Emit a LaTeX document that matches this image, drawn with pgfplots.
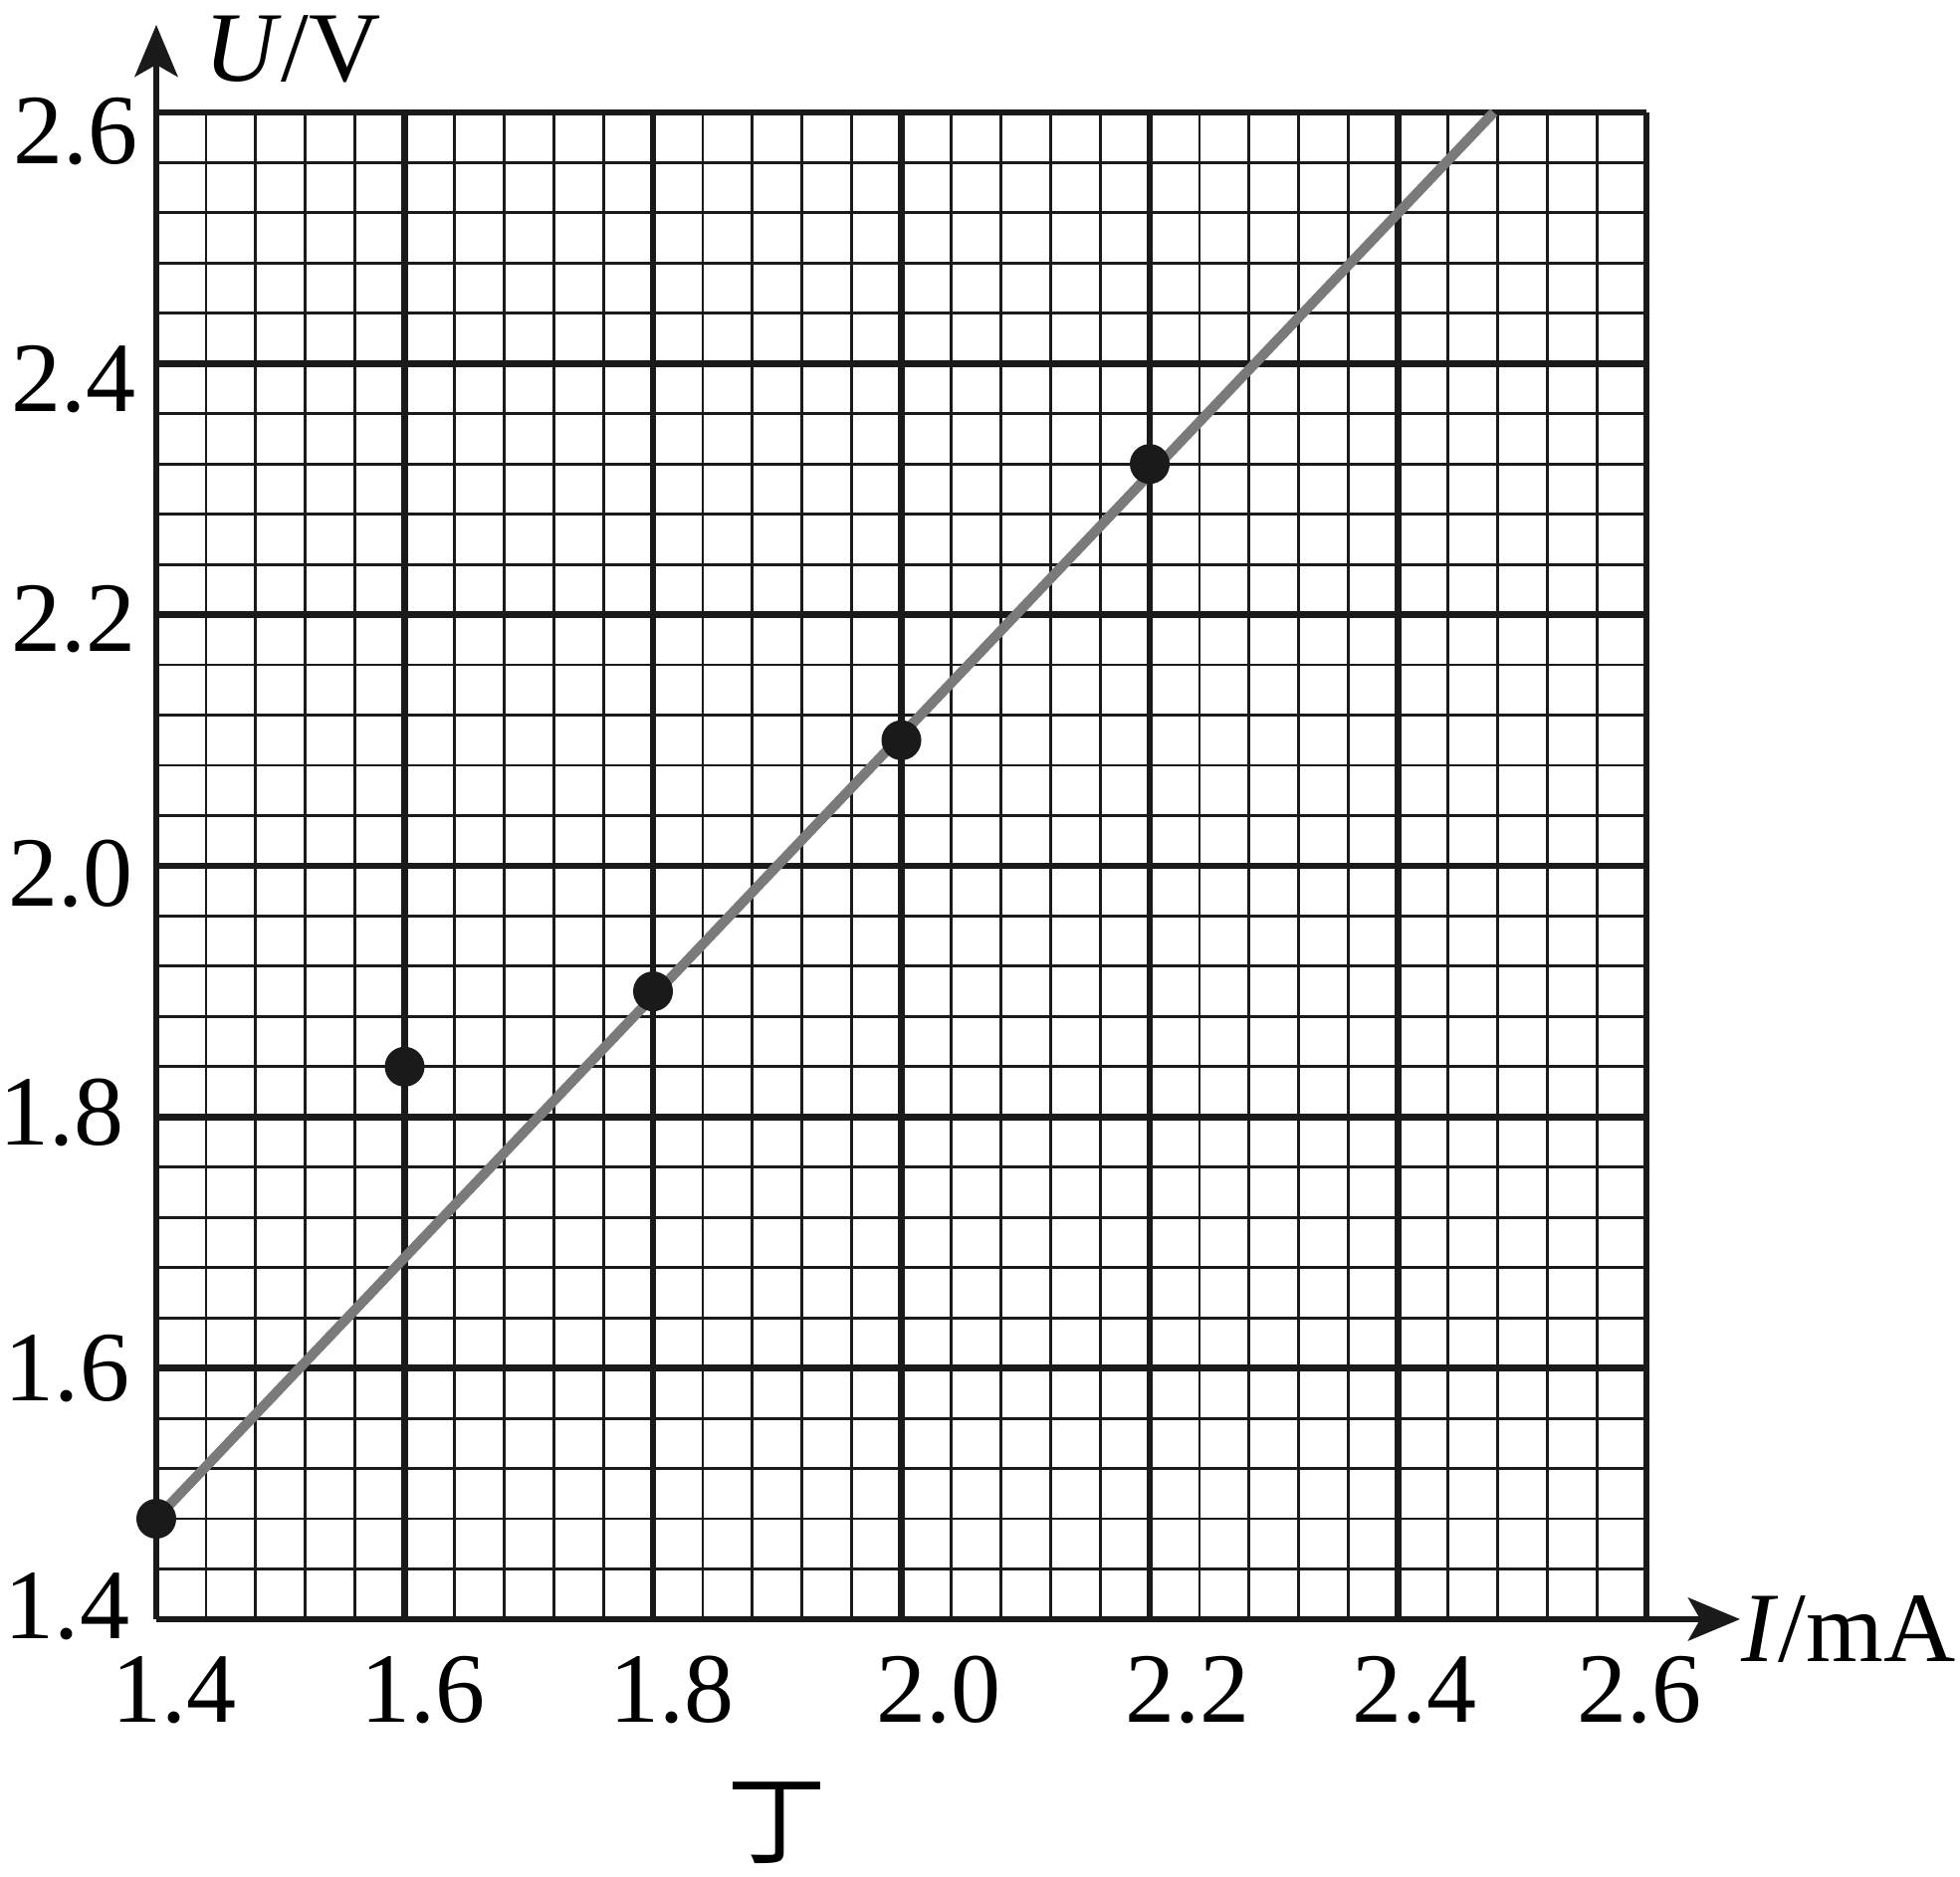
\documentclass[border=0pt]{standalone}
\usepackage{pgfplots}
\pgfplotsset{compat=1.18}
\usetikzlibrary{arrows.meta}
\usepackage{fontspec}
\setmainfont{Liberation Serif}
\newfontfamily\cjk{Noto Sans CJK SC}
\definecolor{fitgray}{RGB}{122,122,122}
\definecolor{ink}{RGB}{26,26,26}
\begin{document}
\fontsize{10}{12}\selectfont
\begin{tikzpicture}
\begin{axis}[
  name=ax,
  scale only axis,
  width=149.7pt, height=151.4pt,
  xmin=1.4, xmax=2.6, ymin=1.4, ymax=2.6,
  xtick={1.4,1.6,1.8,2.0,2.2,2.4,2.6},
  ytick={1.4,1.6,1.8,2.0,2.2,2.4,2.6},
  minor tick num=4,
  grid=both,
  major grid style={line width=0.68pt, color=ink},
  minor grid style={line width=0.28pt, color=ink},
  major tick length=0pt, minor tick length=0pt,
  axis lines=left,
  axis line style={line width=0.68pt, color=ink, -{Stealth[length=5.2pt,width=4.3pt,inset=1.2pt]}},
  x axis line style={shorten >=-9.4pt},
  y axis line style={shorten >=-8.8pt},
  tick label style={font=\fontsize{10}{12}\selectfont, inner sep=0pt},
  xticklabel style={anchor=north, yshift=-3.5pt,
    xshift={{1.8,1.8,1.9,3.7,3.8,1.6,-0.7}[\ticknum]*1pt}},
  yticklabel style={anchor=east,
    xshift={{-2.5,-2.5,-3.0,-2.1,-1.8,-1.8,-1.6}[\ticknum]*1pt},
    yshift={{1.3,0,0.4,-0.8,-0.4,-1.6,-1.9}[\ticknum]*1pt}},
  /pgf/number format/fixed,
  /pgf/number format/fixed zerofill,
  /pgf/number format/precision=1,
  /pgf/number format/assume math mode=true,
  clip=false,
]
\addplot[only marks, mark=*, mark size=1.8pt, color=ink] coordinates {
  (1.4,1.48) (1.6,1.84) (1.8,1.90) (2.0,2.10) (2.2,2.32)
};
\addplot[no marks, line width=1pt, color=fitgray] coordinates {
  (1.4,1.48) (2.477,2.6)
};
\node[anchor=base west, inner sep=0pt, yshift=-4.3pt] at (axis cs:2.675,1.4) {\textit{I}/mA};
\node[anchor=base west, inner sep=0pt, xshift=4.6pt, yshift=3.1pt] at (axis cs:1.4,2.6) {\textit{U}/V};
\node[anchor=center, inner sep=0pt, yshift=-20.5pt] at (axis cs:1.9,1.4) {\cjk 丁};
\end{axis}
\pgfresetboundingbox
\path[use as bounding box] ([xshift=-15.7pt,yshift=-25.9pt]ax.south west) rectangle ([xshift=31.5pt,yshift=11.3pt]ax.north east);
\end{tikzpicture}
\end{document}
